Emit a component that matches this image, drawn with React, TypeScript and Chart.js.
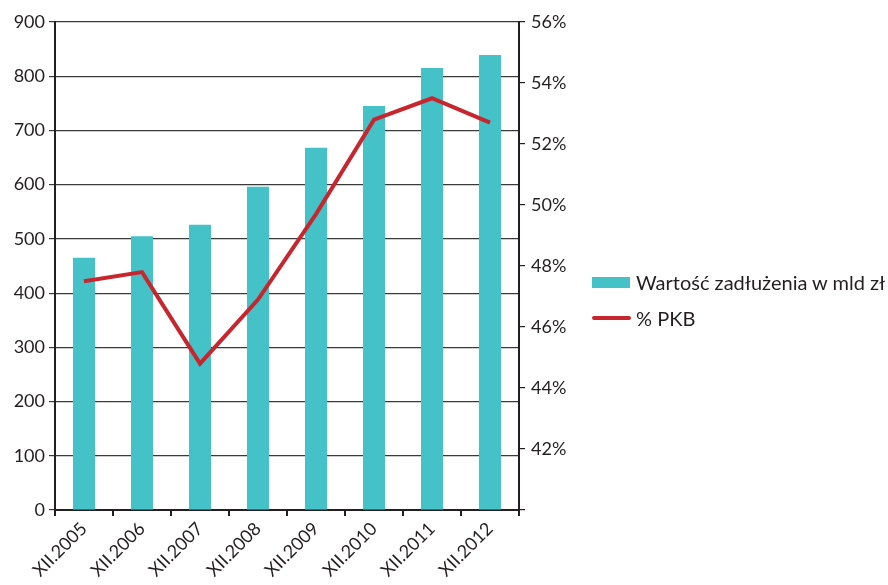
import React, { useEffect, useRef } from "react";
import { Chart, registerables } from "chart.js";

Chart.register(...registerables);

const categories = ["XII.2005", "XII.2006", "XII.2007", "XII.2008", "XII.2009", "XII.2010", "XII.2011", "XII.2012"];
const debtValues = [465, 505, 526, 596, 668, 745, 815, 839];
const pkbValues = [47.5, 47.8, 44.8, 46.9, 49.7, 52.8, 53.5, 52.7];
const seriesNames = ["Wartość zadłużenia w mld zł", "% PKB"];

const FONT = "Lato, 'Open Sans', sans-serif";
const TXT = "#231f20";
const BAR = "#45c1c8";
const RED = "#c8262f";

export default function App() {
  const ref = useRef<HTMLCanvasElement | null>(null);

  useEffect(() => {
    if (!ref.current) return;
    const chart = new Chart(ref.current, {
      type: "bar",
      data: {
        labels: categories,
        datasets: [
          {
            type: "line",
            label: seriesNames[1],
            data: pkbValues,
            yAxisID: "y1",
            borderColor: RED,
            backgroundColor: RED,
            borderWidth: 4,
            pointRadius: 0,
            tension: 0,
            order: 0,
          },
          {
            type: "bar",
            label: seriesNames[0],
            data: debtValues,
            yAxisID: "y",
            backgroundColor: BAR,
            categoryPercentage: 1,
            barPercentage: 0.38,
            order: 1,
          },
        ],
      },
      options: {
        animation: false,
        responsive: false,
        maintainAspectRatio: false,
        layout: { padding: { top: 22, left: 0, right: 0, bottom: 0 } },
        plugins: { legend: { display: false }, tooltip: { enabled: false } },
        scales: {
          x: {
            offset: true,
            grid: { offset: true, drawOnChartArea: false, drawTicks: true, tickLength: 6, color: TXT, lineWidth: 2 },
            border: { color: TXT, width: 2 },
            ticks: { color: TXT, font: { family: FONT, size: 18 }, minRotation: 45, maxRotation: 45, padding: 2 },
            afterFit: (s: any) => { s.height = 75; },
          },
          y: {
            position: "left",
            min: 0,
            max: 900,
            ticks: { stepSize: 100, color: TXT, font: { family: FONT, size: 18 }, padding: 4 },
            grid: { color: "#3a3a3a", lineWidth: 1.2, tickLength: 6 },
            border: { color: TXT, width: 2 },
            afterFit: (s: any) => { s.width = 55; },
          },
          y1: {
            position: "right",
            min: 40,
            max: 56,
            ticks: {
              stepSize: 2,
              color: TXT,
              font: { family: FONT, size: 18 },
              padding: 6,
              callback: (v: any) => (v === 40 ? "" : v + "%"),
            },
            grid: { drawOnChartArea: false, color: TXT, lineWidth: 1.2, tickLength: 6 },
            border: { color: TXT, width: 2 },
            afterFit: (s: any) => { s.width = 369; },
          },
        },
      },
    });
    return () => chart.destroy();
  }, []);

  return (
    <div style={{ position: "absolute", left: 0, top: 0, width: 888, height: 585, overflow: "hidden", background: "#fff" }}>
      <canvas ref={ref} width={888} height={585} style={{ position: "absolute", left: 0, top: 0 }} />
      <div style={{ position: "absolute", left: 592, top: 268, fontFamily: FONT, fontSize: 20, color: TXT, whiteSpace: "nowrap" }}>
        <div style={{ display: "flex", alignItems: "center", height: 28 }}>
          <span style={{ display: "inline-block", width: 38, height: 11, background: BAR, marginRight: 6 }} />
          <span>{seriesNames[0]}</span>
        </div>
        <div style={{ display: "flex", alignItems: "center", height: 28, marginTop: 8 }}>
          <span style={{ display: "inline-block", width: 39, height: 4, background: RED, marginRight: 5, borderRadius: 2 }} />
          <span>{seriesNames[1]}</span>
        </div>
      </div>
    </div>
  );
}
